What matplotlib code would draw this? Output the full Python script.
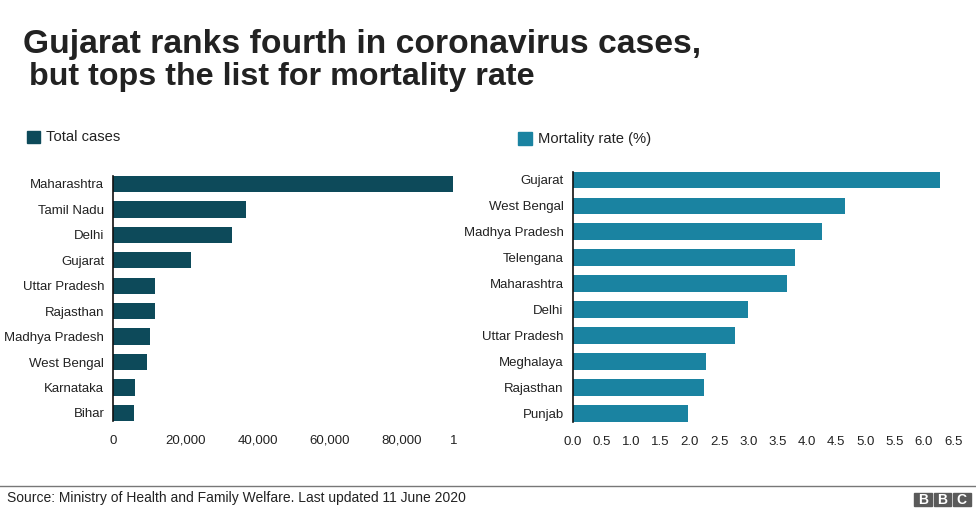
import matplotlib.pyplot as plt
from matplotlib.patches import Rectangle
from matplotlib.transforms import Bbox, TransformedBbox

plt.rcParams['font.family'] = ['Liberation Sans', 'DejaVu Sans']

# Total cases by state
case_states = ['Maharashtra', 'Tamil Nadu', 'Delhi', 'Gujarat', 'Uttar Pradesh',
               'Rajasthan', 'Madhya Pradesh', 'West Bengal', 'Karnataka', 'Bihar']
case_values = [94041, 36841, 32810, 21521, 11610, 11600, 10241, 9328, 6041, 5710]
case_ticks = [0, 20000, 40000, 60000, 80000, 100000]
case_ticklabels = ['0', '20,000', '40,000', '60,000', '80,000', '100,000']

# Mortality rate by state
rate_states = ['Gujarat', 'West Bengal', 'Madhya Pradesh', 'Telengana', 'Maharashtra',
               'Delhi', 'Uttar Pradesh', 'Meghalaya', 'Rajasthan', 'Punjab']
rate_values = [6.27, 4.65, 4.26, 3.80, 3.66, 3.00, 2.77, 2.27, 2.25, 1.97]
rate_ticks = [0.0, 0.5, 1.0, 1.5, 2.0, 2.5, 3.0, 3.5, 4.0, 4.5, 5.0, 5.5, 6.0, 6.5]

dark = '#0d4a5a'
light = '#1a83a1'
txt = '#222222'

fig = plt.figure(figsize=(9.76, 5.14), dpi=100)
W, H = 976, 514


def px_axes(x0, y0, x1, y1):
    return fig.add_axes([x0 / W, 1 - y1 / H, (x1 - x0) / W, (y1 - y0) / H])


def style(ax, states, values, color, bh):
    ax.barh(range(len(states)), values, height=bh, color=color)
    ax.set_ylim(len(states) - 1 + bh / 2, -bh / 2)
    ax.set_yticks(range(len(states)))
    ax.set_yticklabels(states, fontsize=9.5, color=txt)
    for s in ['top', 'right', 'bottom']:
        ax.spines[s].set_visible(False)
    ax.spines['left'].set_color('#111111')
    ax.spines['left'].set_linewidth(1.2)
    ax.tick_params(axis='both', length=0, labelsize=9.5, labelcolor=txt)
    ax.tick_params(axis='y', pad=6.5)
    ax.tick_params(axis='x', pad=10)


# left panel
ax1 = px_axes(113.3, 175.8, 474, 421.1)
style(ax1, case_states, case_values, dark, 0.64)
ax1.set_xlim(0, 100000)
ax1.set_xticks(case_ticks)
ax1.set_xticklabels(case_ticklabels)

# right panel
ax2 = px_axes(572.7, 171.6, 953.3, 421.7)
style(ax2, rate_states, rate_values, light, 0.644)
ax2.set_xlim(0, 6.5)
ax2.set_xticks(rate_ticks)
ax2.set_xticklabels([f'{t:.1f}' for t in rate_ticks])

# the last left label is cut off in the original
fig.canvas.draw()
clip = TransformedBbox(Bbox([[0, 0], [457 / W, 1]]), fig.transFigure)
for lbl in ax1.get_xticklabels():
    lbl.set_clip_box(clip)
    lbl.set_clip_on(True)

# title
fig.text(23 / W, 1 - 53.5 / H, 'Gujarat ranks fourth in coronavirus cases,',
         fontsize=24.2, fontweight='bold', color=txt, va='baseline', ha='left')
fig.text(29 / W, 1 - 85.5 / H, 'but tops the list for mortality rate',
         fontsize=23.2, fontweight='bold', color=txt, va='baseline', ha='left')

# legends
fig.patches.append(Rectangle((27 / W, 1 - 143 / H), 12.5 / W, 12.5 / H,
                             transform=fig.transFigure, color=dark))
fig.text(46 / W, 1 - 137 / H, 'Total cases', fontsize=10.6, color=txt, va='center')
fig.patches.append(Rectangle((518 / W, 1 - 145 / H), 13.5 / W, 13.5 / H,
                             transform=fig.transFigure, color=light))
fig.text(538 / W, 1 - 139 / H, 'Mortality rate (%)', fontsize=10.6, color=txt, va='center')

# footer
fig.add_artist(plt.Line2D([0, 975 / W], [1 - 486 / H, 1 - 486 / H],
                          transform=fig.transFigure, color='#777777', lw=1))
fig.text(7 / W, 1 - 498 / H, 'Source: Ministry of Health and Family Welfare. Last updated 11 June 2020',
         fontsize=10, color=txt, va='center')
for i, ch in enumerate('BBC'):
    x0 = 914 + i * 19.5
    fig.patches.append(Rectangle((x0 / W, 1 - 506 / H), 17.5 / W, 13 / H,
                                 transform=fig.transFigure, color='#5a5a5a'))
    fig.text((x0 + 8.75) / W, 1 - 504 / H, ch, fontsize=10, fontweight='bold',
             color='white', ha='center', va='baseline')

fig.savefig('out.png', dpi=100, facecolor='white')
